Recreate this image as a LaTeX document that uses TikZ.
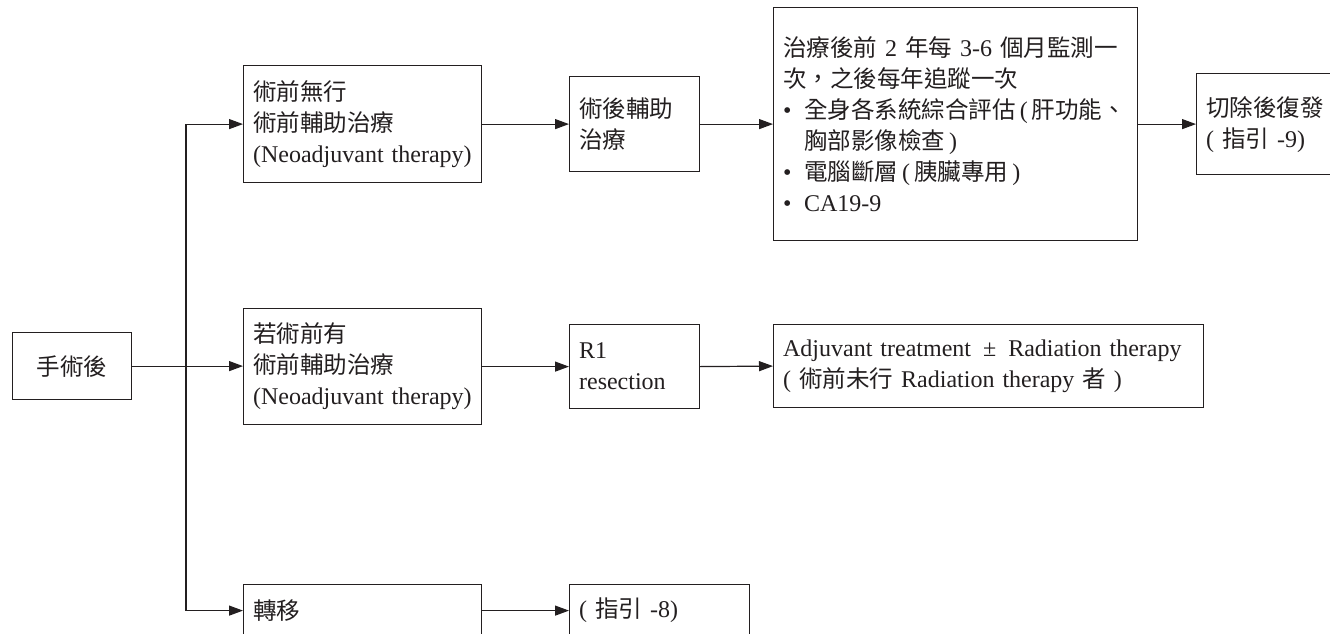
\documentclass[tikz,border=0pt]{standalone}
\usepackage{fontspec}
\setmainfont{Liberation Serif}
\newfontfamily\cjk{Noto Sans CJK TC}[Scale=0.98]
\usetikzlibrary{arrows.meta}
\definecolor{ink}{HTML}{231F20}
\newcommand{\bul}{\makebox[21pt][l]{\textbullet}}
\tikzset{
  box/.style={draw=ink, line width=1.2pt, anchor=north west, inner xsep=9.5pt, inner ysep=0pt,
    align=left, text=ink, font=\fontsize{24}{31}\selectfont},
  arr/.style={draw=ink, line width=1.2pt, -{Triangle[length=14pt,width=10pt]}},
  ln/.style={draw=ink, line width=1.2pt}
}
\begin{document}
\begin{tikzpicture}[x=1pt,y=-1pt]
\useasboundingbox (0,0) rectangle (1330,634);
\clip (0,0) rectangle (1330,634);
\fill[white] (0,0) rectangle (1330,634);

\node[box, align=center, text width=100pt, minimum width=119pt, minimum height=67pt] (start) at (12,332) {{\cjk 手術後}};

\node[box, text width=219pt, minimum width=238pt, minimum height=117pt] (a) at (243,65)
  {{\cjk 術前無行}\\{\cjk 術前輔助治療}\\(Neoadjuvant therapy)};
\node[box, text width=111pt, minimum width=130pt, minimum height=95pt] (b) at (569,76)
  {{\cjk 術後輔助}\\{\cjk 治療}};
\node[box, text width=345pt, minimum width=364pt, minimum height=233pt] (c) at (773,7)
  {{\cjk 治療後前} 2 {\cjk 年每} 3-6 {\cjk 個月監測一}\\
   {\cjk 次，之後每年追蹤一次}\\
   \bul{\cjk 全身各系統綜合評估}\,(\,{\cjk 肝功能、}\\
   \hspace*{21pt}{\cjk 胸部影像檢查}\,)\\
   \bul{\cjk 電腦斷層}\,(\,{\cjk 胰臟專用}\,)\\
   \bul CA19-9};
\node[box, text width=181pt, minimum width=200pt, minimum height=101pt] (d) at (1196,73)
  {{\cjk 切除後復發}\\( {\cjk 指引} -9)};

\node[box, text width=219pt, minimum width=238pt, minimum height=116pt] (e) at (243,308)
  {{\cjk 若術前有}\\{\cjk 術前輔助治療}\\(Neoadjuvant therapy)};
\node[box, text width=111pt, minimum width=130pt, minimum height=84pt] (f) at (569,324)
  {R1\\resection};
\node[box, text width=411pt, minimum width=430pt, minimum height=83pt] (g) at (773,324)
  {Adjuvant treatment\enspace±\enspace Radiation therapy\\( {\cjk 術前未行} Radiation therapy {\cjk 者} )};

\node[box, text width=219pt, minimum width=238pt, minimum height=52pt] (h) at (243,584)
  {{\cjk 轉移}};
\node[box, text width=161pt, minimum width=180pt, minimum height=52pt] (i) at (569,584)
  {( {\cjk 指引} -8)};

\coordinate (trunk) at (186,0);
\draw[ln] (trunk |- a.west) -- (trunk |- h.west);
\draw[arr] (trunk |- a.west) -- (a.west);
\draw[arr] (trunk |- h.west) -- (h.west);
\draw[arr] (start.east) -- (start.east -| e.west);
\draw[arr] (a.east) -- (b.west);
\draw[arr] (b.east) -- (c.west);
\draw[arr] (c.east) -- (d.west);
\draw[arr] (e.east) -- (f.west);
\draw[arr] (f.east) -- (g.west);
\draw[arr] (h.east) -- (i.west);
\end{tikzpicture}
\end{document}
